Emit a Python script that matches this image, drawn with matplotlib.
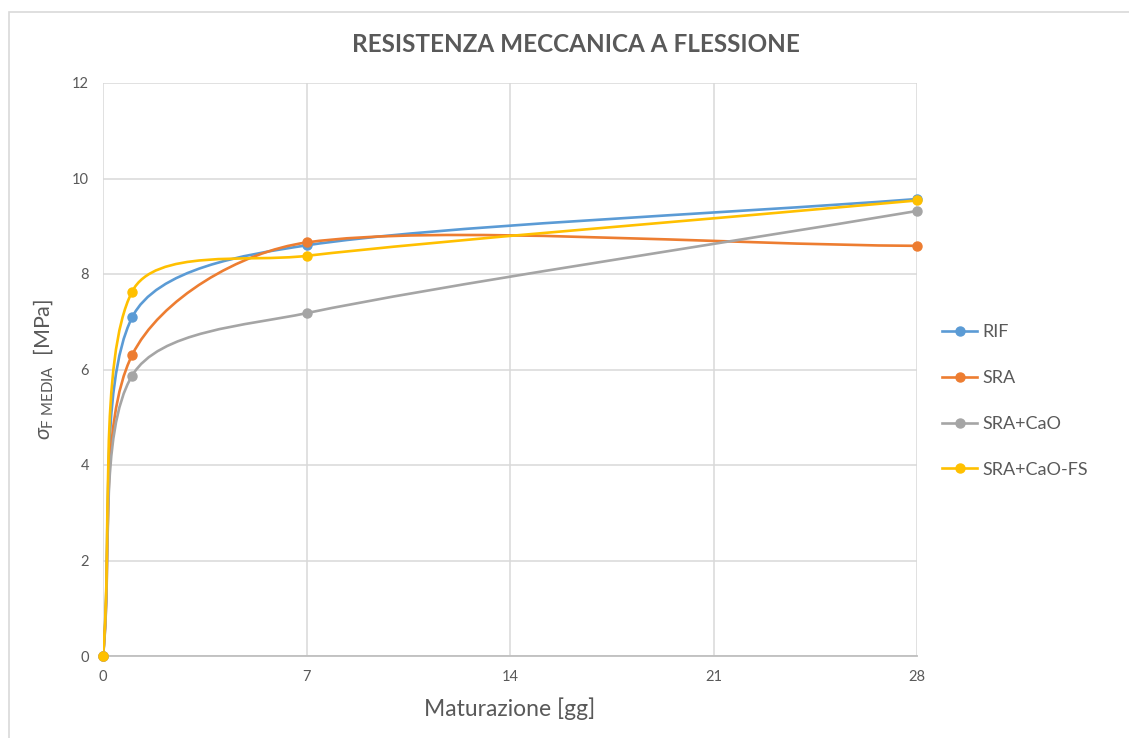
import matplotlib
matplotlib.use('Agg')
import matplotlib.pyplot as plt
from matplotlib.path import Path
from matplotlib.patches import PathPatch, Rectangle
from matplotlib.lines import Line2D
from math import hypot

plt.rcParams['font.family'] = ['Lato', 'DejaVu Sans']
plt.rcParams['mathtext.fontset'] = 'custom'
plt.rcParams['mathtext.rm'] = 'Lato'
plt.rcParams['mathtext.it'] = 'Lato:italic'

days = [0, 1, 7, 28]
rif = [0, 7.09, 8.60, 9.57]
sra = [0, 6.30, 8.66, 8.59]
sra_cao = [0, 5.87, 7.18, 9.32]
sra_cao_fs = [0, 7.63, 8.38, 9.54]

series = [
    ('RIF', rif, '#5B9BD5'),
    ('SRA', sra, '#ED7D31'),
    ('SRA+CaO', sra_cao, '#A5A5A5'),
    ('SRA+CaO-FS', sra_cao_fs, '#FFC000'),
]

text_col = '#595959'


def smooth_path(ax, xs, ys):
    # cubic bezier through the points, tangents worked out in display space.
    # arm length follows the neighbouring segment lengths, capped at 1/6 of the tangent
    trans = ax.transData
    pts = [tuple(p) for p in trans.transform(list(zip(xs, ys)))]
    n = len(pts)

    def dist(a, b):
        return hypot(b[0] - a[0], b[1] - a[1])

    verts = [pts[0]]
    codes = [Path.MOVETO]
    for i in range(n - 1):
        p0 = pts[max(i - 1, 0)]
        p1 = pts[i]
        p2 = pts[i + 1]
        p3 = pts[min(i + 2, n - 1)]
        d01, d12, d23 = dist(p0, p1), dist(p1, p2), dist(p2, p3)
        f1 = 1 / 3 if i == 0 else min(d12 / (d01 + d12) / 3, 1 / 6)
        f2 = 1 / 3 if i == n - 2 else min(d12 / (d12 + d23) / 3, 1 / 6)
        c1 = (p1[0] + (p2[0] - p0[0]) * f1, p1[1] + (p2[1] - p0[1]) * f1)
        c2 = (p2[0] - (p3[0] - p1[0]) * f2, p2[1] - (p3[1] - p1[1]) * f2)
        verts += [c1, c2, p2]
        codes += [Path.CURVE4] * 3
    verts = trans.inverted().transform(verts)
    return Path(verts, codes)


fig = plt.figure(figsize=(11.29, 7.38), dpi=100)
ax = fig.add_axes([103/1129, 1 - 656/738, (917-103)/1129, (656-83)/738])
ax.set_xlim(0, 28)
ax.set_ylim(0, 12)

# chart frame
fig.patches.append(Rectangle((9/1129, -0.05), 1.2, 1 - 12/738 + 0.05,
                             transform=fig.transFigure, fill=False,
                             edgecolor='#D9D9D9', linewidth=1.2))

handles = []
for name, vals, col in series:
    ax.add_patch(PathPatch(smooth_path(ax, days, vals), facecolor='none',
                           edgecolor=col, linewidth=1.9, capstyle='round', zorder=3))
    ax.plot(days, vals, linestyle='none', marker='o', markersize=6.5,
            color=col, zorder=4, clip_on=False)
    handles.append(Line2D([], [], color=col, linewidth=1.9, marker='o', markersize=6.5))

ax.set_xticks([0, 7, 14, 21, 28])
ax.set_yticks([0, 2, 4, 6, 8, 10, 12])
ax.grid(True, color='#D9D9D9', linewidth=1.1)
ax.set_axisbelow(True)
for s in ['top', 'right', 'left']:
    ax.spines[s].set_visible(False)
ax.spines['bottom'].set_color('#BFBFBF')
ax.spines['bottom'].set_linewidth(1.3)
ax.tick_params(length=0, labelsize=10.5, labelcolor=text_col, pad=10)

ax.set_xlabel('Maturazione [gg]', fontsize=16.5, color=text_col, labelpad=10)
ax.set_ylabel(r'$\sigma_{\mathrm{F\ MEDIA}}$  [MPa]', fontsize=15.5, color=text_col, labelpad=12)

fig.text(0.5105, 1 - 44/738, 'RESISTENZA MECCANICA A FLESSIONE', ha='center', va='center',
         fontsize=17.5, fontweight='bold', color=text_col)

leg = fig.legend(handles, [s[0] for s in series], loc='center left',
                 bbox_to_anchor=(926/1129, 1 - 401/738), frameon=False,
                 fontsize=13, labelcolor=text_col, handlelength=1.95,
                 handletextpad=0.3, labelspacing=1.65)

fig.savefig('out.png', dpi=100)
